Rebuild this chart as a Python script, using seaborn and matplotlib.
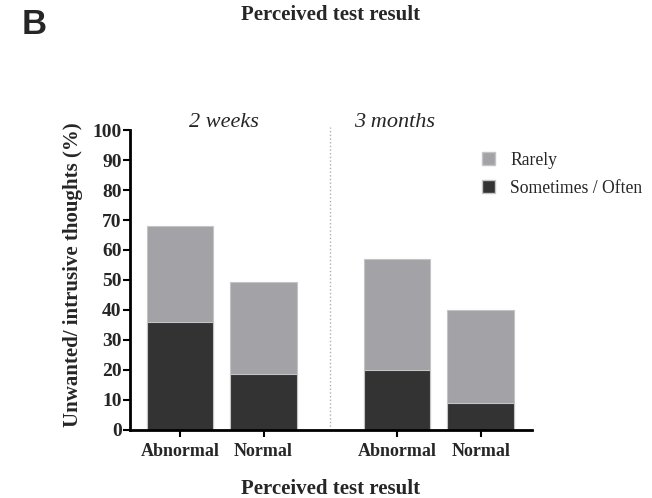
import matplotlib
matplotlib.use("Agg")
import matplotlib.pyplot as plt
from matplotlib.patches import Patch
import seaborn as sns
import pandas as pd

# Survey data: share of participants reporting unwanted / intrusive thoughts
timepoints = ["2 weeks", "3 months"]
results = ["Abnormal", "Normal"]
rarely = [32.0, 30.5, 37.0, 31.0]          # % reporting "Rarely"
sometimes_often = [36.0, 18.7, 20.0, 9.0]  # % reporting "Sometimes / Often"

light = "#a3a3a7"
dark = "#333333"

sns.set_theme(style="ticks")
plt.rcParams["font.family"] = ["Liberation Serif", "DejaVu Serif"]

# Bar positions: two bars per time point, with a wider gap between time points
group_step = 2.6
rows = []
for g, tp in enumerate(timepoints):
    for j, res in enumerate(results):
        k = g * len(results) + j
        rows.append({
            "pos": g * group_step + j,
            "timepoint": tp,
            "result": res,
            "sometimes": sometimes_often[k],
            "total": rarely[k] + sometimes_often[k],
        })
df = pd.DataFrame(rows)

fig = plt.figure(figsize=(6.52, 4.98), dpi=100)
ax = fig.add_axes([130 / 652, 1 - 430 / 498, 402 / 652, 300 / 498])

# Stacked bars: full height in light grey, lower part in dark grey
sns.barplot(data=df, x="pos", y="total", native_scale=True, width=0.8,
            color=light, edgecolor="#c4c4c4", linewidth=0.8, saturation=1,
            errorbar=None, ax=ax)
sns.barplot(data=df, x="pos", y="sometimes", native_scale=True, width=0.8,
            color=dark, edgecolor="#c4c4c4", linewidth=0.8, saturation=1,
            errorbar=None, ax=ax)

ax.set_xlim(-0.6, 4.216)
ax.set_ylim(0, 100)
ax.set_yticks(range(0, 101, 10))
ax.set_xticks(df["pos"], df["result"])

for side in ("top", "right"):
    ax.spines[side].set_visible(False)
for side in ("left", "bottom"):
    ax.spines[side].set_linewidth(2)
    ax.spines[side].set_color("black")
ax.tick_params(axis="both", direction="out", length=5, width=1.5, color="black")
ax.tick_params(axis="y", labelsize=14, pad=1)
ax.tick_params(axis="x", labelsize=13, pad=4)
for lab in ax.get_xticklabels() + ax.get_yticklabels():
    lab.set_fontweight("bold")

ax.set_ylabel("Unwanted/ intrusive thoughts (%)", fontsize=15,
              fontweight="bold")
ax.yaxis.set_label_coords(-0.117, 0.518)
ax.set_xlabel("Perceived test result", fontsize=15, fontweight="bold",
              labelpad=14)

# Divider between the two time points
sep = (len(results) - 1 + group_step) / 2
ax.axvline(sep, ymin=0, ymax=1.01, color="#b0b0b0", linestyle=":",
           linewidth=1, clip_on=False)

# Time point headings
for g, tp in enumerate(timepoints):
    xc = g * group_step + (0.52 if g == 0 else -0.03)
    ax.text(xc, 101, tp, ha="center", va="baseline", fontsize=16,
            fontstyle="italic")

handles = [Patch(facecolor=light, edgecolor="#c4c4c4", label="Rarely"),
           Patch(facecolor=dark, edgecolor="#c4c4c4", label="Sometimes / Often")]
ax.legend(handles=handles, frameon=False, loc="upper left",
          bbox_to_anchor=(482 / 652, 1 - 152 / 498),
          bbox_transform=fig.transFigure, borderaxespad=0, borderpad=0,
          fontsize=12.7, handlelength=0.75, handleheight=0.75,
          handletextpad=0.85, labelspacing=0.6)

fig.text(331 / 652, 1 - 15 / 498, "Perceived test result", ha="center",
         va="center", fontsize=15, fontweight="bold")
fig.text(22 / 652, 1 - 25 / 498, "B", ha="left", va="center", fontsize=25,
         fontweight="bold", family=["Liberation Sans", "DejaVu Sans"])

fig.savefig("out.png", dpi=100)
